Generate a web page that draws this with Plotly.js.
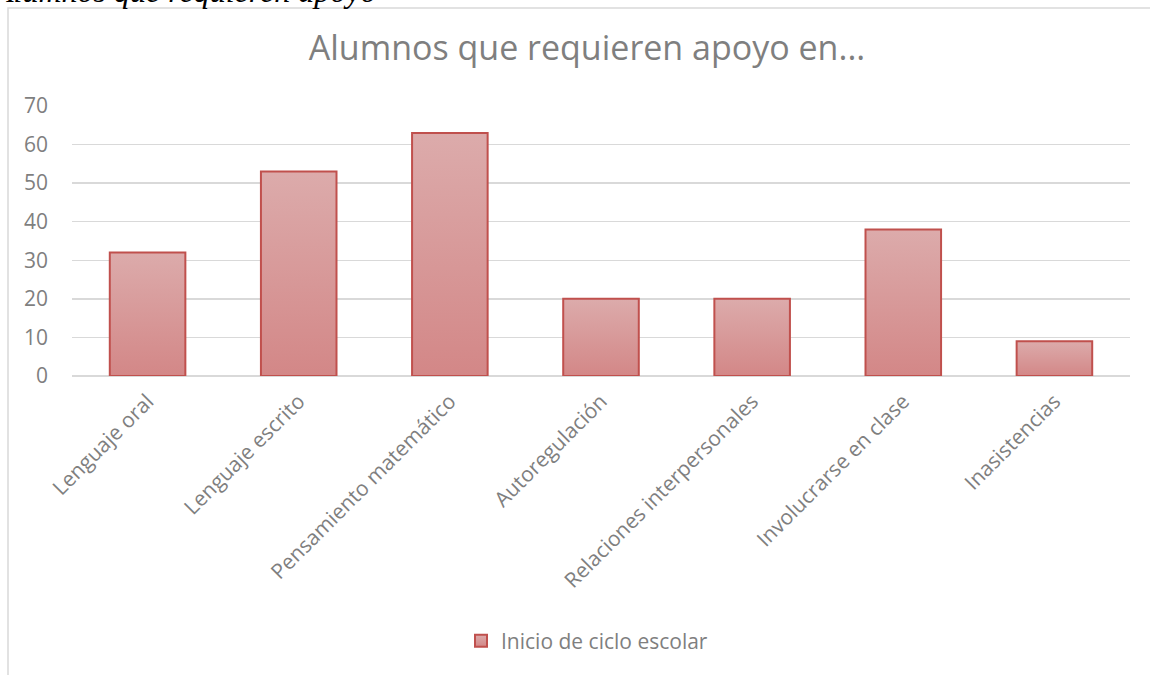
<!DOCTYPE html>
<html>
<head>
<meta charset="utf-8">
<script src="https://cdn.plot.ly/plotly-3.0.1.min.js"></script>
<style>
  html, body { margin: 0; padding: 0; background: #ffffff; }
  #chart { width: 1150px; height: 675px; }
</style>
</head>
<body>
<div id="chart"></div>
<script>
const categories = [
  "Lenguaje oral",
  "Lenguaje escrito",
  "Pensamiento matemático",
  "Autoregulación",
  "Relaciones interpersonales",
  "Involucrarse en clase",
  "Inasistencias"
];
const values = [32, 53, 63, 20, 20, 38, 9];
const seriesName = "Inicio de ciclo escolar";
const yTicks = [0, 10, 20, 30, 40, 50, 60, 70];
const chartTitle = "Alumnos que requieren apoyo en...";
const headerText = "Alumnos que requieren apoyo";

const W = 1150, H = 675;
const L = 72, R = 20, T = 106, B = 299;
const pw = W - L - R, ph = H - T - B;
const px = v => (v - L) / pw;
const py = v => (H - B - v) / ph;

const textGray = "#7f7f7f";
const font = "'Open Sans', 'Noto Sans', sans-serif";

const trace = {
  type: "bar",
  x: categories,
  y: values,
  name: seriesName,
  width: 0.5,
  marker: { color: "#d89a9a", line: { color: "#c0504d", width: 2 } },
  showlegend: true,
  hoverinfo: "x+y"
};

const layout = {
  width: W, height: H,
  margin: { l: L, r: R, t: T, b: B },
  paper_bgcolor: "#ffffff",
  plot_bgcolor: "#ffffff",
  font: { family: font, color: textGray },
  title: {
    text: chartTitle,
    font: { family: font, size: 34, color: "#7f7f7f" },
    x: 587 / W, xanchor: "center",
    y: 1 - 48 / H, yanchor: "middle"
  },
  xaxis: {
    type: "category",
    tickangle: -45,
    tickfont: { family: font, size: 21, color: textGray },
    showgrid: false, showline: false, zeroline: false,
    ticks: "", ticklen: 0, ticklabelstandoff: 8
  },
  yaxis: {
    range: [0, 70],
    tickvals: yTicks,
    tickfont: { family: font, size: 21, color: textGray },
    showgrid: true, gridcolor: "#d9d9d9", gridwidth: 1.5,
    zeroline: true, zerolinecolor: "#d9d9d9", zerolinewidth: 1.5,
    showline: false, ticks: "", ticklabelstandoff: 23
  },
  showlegend: true,
  legend: {
    orientation: "h",
    x: px(587), xanchor: "center",
    y: py(641), yanchor: "middle",
    font: { family: font, size: 21, color: textGray },
    itemwidth: 30
  },
  shapes: [{
    type: "rect", xref: "paper", yref: "paper",
    x0: px(8), x1: px(1165), y0: py(700), y1: py(8),
    line: { color: "#d9d9d9", width: 1.5 },
    fillcolor: "rgba(0,0,0,0)", layer: "below"
  }],
  annotations: [{
    text: "<i>" + headerText + "</i>",
    xref: "paper", yref: "paper",
    x: px(-10), xanchor: "left",
    y: py(-9), yanchor: "middle",
    showarrow: false,
    font: { family: "'Liberation Serif', 'DejaVu Serif', serif", size: 32, color: "#000000" }
  }]
};

Plotly.newPlot("chart", [trace], layout, { displayModeBar: false, staticPlot: true }).then(gd => {
  const svg = gd.querySelector(".main-svg");
  const ns = "http://www.w3.org/2000/svg";
  let defs = svg.querySelector("defs");
  if (!defs) { defs = document.createElementNS(ns, "defs"); svg.insertBefore(defs, svg.firstChild); }
  const grad = document.createElementNS(ns, "linearGradient");
  grad.setAttribute("id", "barGrad");
  grad.setAttribute("x1", "0"); grad.setAttribute("y1", "0");
  grad.setAttribute("x2", "0"); grad.setAttribute("y2", "1");
  [["0", "#dcabab"], ["1", "#d38787"]].forEach(([o, c]) => {
    const s = document.createElementNS(ns, "stop");
    s.setAttribute("offset", o); s.setAttribute("stop-color", c);
    grad.appendChild(s);
  });
  defs.appendChild(grad);
  gd.querySelectorAll(".barlayer .point path, .legend .legendpoints path").forEach(p => {
    p.style.fill = "url(#barGrad)";
  });
});
</script>
</body>
</html>
